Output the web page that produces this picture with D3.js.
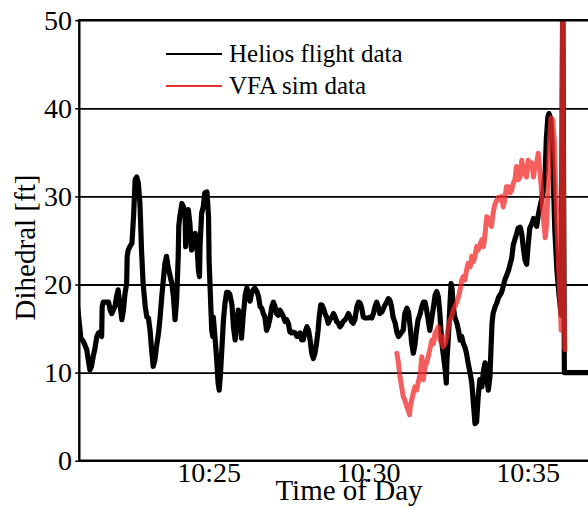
<!DOCTYPE html>
<html>
<head>
<meta charset="utf-8">
<script src="https://cdn.jsdelivr.net/npm/d3@7"></script>
<style>
  body { margin: 0; background: #fff; }
  svg { display: block; }
  text { font-family: "Liberation Serif", "DejaVu Serif", serif; fill: #000; }
</style>
</head>
<body>
<svg id="chart" width="588" height="508"></svg>
<script>
// Clock time that the second offsets below count from
const startClock = "10:20:00";

// Helios flight record: seconds after startClock, dihedral in ft
const flightSec = [
  52,60,65,71,74,77,80,83,86,90,
  93,96,99,100,102,112,115,118,121,124,
  127,130,134,137,140,143,146,147,149,152,
  156,159,162,165,168,171,174,177,181,184,
  187,190,193,196,199,203,206,209,212,215,
  218,221,224,228,231,234,237,240,243,244,
  246,250,253,256,257,259,262,265,268,271,
  275,278,281,283,284,287,290,293,297,300,
  301,304,306,308,309,312,315,318,320,322,
  325,328,331,334,337,340,344,347,350,353,
  356,359,362,365,369,372,375,378,381,384,
  387,391,394,397,400,403,406,409,412,416,
  419,422,425,428,431,434,438,441,444,447,
  450,453,456,459,463,466,469,472,475,478,
  481,485,488,491,494,497,500,503,506,508,
  511,513,516,519,522,525,528,532,535,538,
  541,544,547,550,553,557,560,563,566,569,
  572,575,579,582,585,588,591,594,600,604,
  607,610,613,616,619,622,626,629,632,635,
  638,641,644,647,651,654,657,660,663,666,
  669,673,676,679,682,685,688,691,694,698,
  701,704,707,710,713,716,720,723,726,729,
  732,735,738,741,745,747,748,751,754,756,
  758,760,763,767,770,773,776,779,782,785,
  788,792,795,798,801,804,807,810,814,817,
  820,823,826,829,831,833,835,839,842,845,
  851,857,864,870,873,876,879,882,886,889,
  892,895,898,901,904,908,911,914,917,920,
  923,926,929,933,935,938,940,943,945,948,
  951,955,959,963,966,969,1040
];
const flightDihedral = [
  18.5,13.9,13.5,12.6,11.4,10.3,10.7,11.8,12.6,14.1,
  14.5,14.6,14.1,17.5,18.0,18.0,17.1,16.7,17.1,17.5,
  18.6,19.4,17.5,16.0,17.1,19.0,20.1,23.2,23.9,24.3,
  24.7,27.7,31.9,32.2,31.5,29.2,23.9,20.1,17.5,16.3,
  16.2,14.8,12.6,10.7,11.4,13.3,14.5,16.3,18.6,20.5,
  22.4,23.2,22.0,20.9,20.1,18.6,16.0,18.2,23.2,26.6,
  27.7,29.2,28.8,27.7,24.3,26.6,28.5,26.9,23.9,24.3,
  25.8,24.7,21.6,20.9,24.3,28.1,28.8,30.4,30.5,27.7,
  22.8,17.9,14.8,14.1,16.3,14.1,11.8,8.8,8.0,9.5,
  12.6,16.0,17.9,19.1,19.1,18.9,17.7,15.1,13.7,15.7,
  17.1,16.2,13.9,16.3,18.8,19.6,19.0,18.1,19.0,19.4,
  19.6,19.2,18.6,17.5,17.3,16.7,16.3,14.8,15.2,16.3,
  17.5,18.0,17.5,16.7,16.5,17.1,16.7,16.3,15.8,16.0,
  15.6,14.6,14.5,14.6,14.5,14.1,14.1,14.5,13.7,13.7,
  14.5,15.2,14.8,13.7,12.2,11.6,12.2,13.3,14.8,16.3,
  17.7,17.7,17.3,16.7,16.3,15.6,16.0,16.3,16.7,16.3,
  15.8,15.6,15.2,15.4,15.8,16.0,16.3,16.7,16.3,15.8,
  15.6,16.0,17.5,18.0,17.9,17.3,16.3,16.2,16.2,16.3,
  16.2,16.7,17.5,18.0,17.5,16.7,16.9,17.3,17.7,18.0,
  18.4,18.2,17.5,16.3,15.6,14.6,14.1,14.3,14.6,14.8,
  16.7,17.3,16.9,15.2,13.3,12.2,13.1,14.8,16.0,16.7,
  17.5,18.0,18.0,17.1,16.0,14.8,16.3,17.5,18.8,19.2,
  18.6,16.7,13.7,12.2,10.3,8.8,11.1,14.1,17.9,20.1,
  19.4,17.5,16.3,15.6,14.8,13.7,14.1,13.3,12.9,12.2,
  11.1,9.9,8.8,6.5,4.2,4.4,7.3,9.2,8.4,10.3,
  11.1,9.5,8.0,9.5,12.6,15.6,16.7,17.5,17.9,18.5,
  19.1,20.5,21.6,23.0,24.5,25.1,25.7,26.4,26.5,25.7,
  24.1,22.8,22.3,24.5,26.4,26.9,27.5,27.3,26.6,27.9,
  28.8,29.6,30.5,32.8,36.4,39.0,39.4,38.9,37.0,32.4,
  26.2,21.6,18.8,16.5,55,10.0,10.0
];

// VFA simulation: seconds after startClock, dihedral in ft
const simSec = [
  654,657,660,663,666,669,673,676,678,679,
  682,685,688,691,694,698,701,703,704,707,
  710,713,716,720,723,726,729,732,735,738,
  741,745,748,751,754,757,760,763,767,770,
  773,776,779,782,785,788,792,795,798,801,
  804,807,810,814,817,820,823,826,829,832,
  835,838,842,845,848,851,854,857,860,864,
  867,870,873,876,879,882,886,889,892,895,
  898,901,904,908,911,914,917,920,923,926,
  929,933,936,939,941,944,947,950,952,955,
  958,961,963,966,968,970
];
const simDihedral = [
  12.2,11.1,9.5,8.4,7.3,6.9,6.1,5.6,5.2,6.1,
  6.9,7.7,8.4,8.0,8.8,9.9,11.8,10.3,9.2,10.7,
  11.1,11.8,12.6,13.7,13.3,14.5,14.8,15.2,13.7,14.1,
  12.9,13.3,14.1,15.2,16.0,16.3,17.1,17.5,18.0,18.6,
  19.4,20.5,20.9,20.5,21.6,22.4,22.0,23.2,22.6,23.2,
  24.3,23.9,24.5,25.1,24.3,25.8,27.7,27.5,26.9,26.6,
  28.1,29.0,29.6,29.9,29.6,30.0,28.8,29.6,31.1,31.1,
  30.4,30.7,31.5,31.9,33.4,31.9,32.2,34.1,32.6,33.4,
  32.2,34.1,33.4,33.8,32.2,33.4,33.8,34.9,33.0,30.7,
  27.9,25.3,27.1,31.9,36.4,38.9,38.7,36.4,32.4,27.3,
  22.2,18.2,14.8,55,18.2,12.6
];

const yTicks = [0, 10, 20, 30, 40, 50];
const xTickLabels = ["10:25", "10:30", "10:35"];
const seriesNames = ["Helios flight data", "VFA sim data"];
const seriesColors = ["#000000", "#f12c2a"];

// ---- scales ----
const parseClock = d3.timeParse("%H:%M:%S");
const parseTick = d3.timeParse("%H:%M");
const base = parseClock(startClock);
const at = s => new Date(base.getTime() + s * 1000);

const plot = { left: 79.3, top: 20.2, right: 600, bottom: 460.7 };
const x = d3.scaleTime().domain([at(57), at(1036)]).range([plot.left, plot.right]);
const y = d3.scaleLinear().domain([0, 50]).range([plot.bottom, plot.top]);

const svg = d3.select("#chart");

svg.append("defs").append("clipPath").attr("id", "plotClip")
  .append("rect")
  .attr("x", plot.left).attr("y", plot.top)
  .attr("width", plot.right - plot.left).attr("height", plot.bottom - plot.top);

// ---- horizontal grid ----
svg.append("g")
  .attr("transform", `translate(${plot.left},0)`)
  .call(d3.axisLeft(y).tickValues(yTicks.filter(v => v > 0 && v < 50))
    .tickSize(-(plot.right - plot.left)).tickFormat(""))
  .call(g => g.select(".domain").remove())
  .call(g => g.selectAll("line").attr("stroke", "#000").attr("stroke-width", 1.8));

// ---- series ----
const line = d3.line().x(d => x(at(d[0]))).y(d => y(d[1]));
const lines = svg.append("g").attr("clip-path", "url(#plotClip)");

lines.append("path")
  .datum(d3.zip(flightSec, flightDihedral))
  .attr("d", line)
  .attr("fill", "none")
  .attr("stroke", seriesColors[0])
  .attr("stroke-width", 5.2)
  .attr("stroke-linejoin", "round")
  .attr("stroke-linecap", "round");

lines.append("path")
  .datum(d3.zip(simSec, simDihedral))
  .attr("d", line)
  .attr("fill", "none")
  .attr("stroke", seriesColors[1])
  .attr("stroke-opacity", 0.76)
  .attr("stroke-width", 5)
  .attr("stroke-linejoin", "round")
  .attr("stroke-linecap", "round");

// ---- axes ----
const yAxis = svg.append("g")
  .attr("transform", `translate(${plot.left},0)`)
  .call(d3.axisLeft(y).tickValues(yTicks).tickFormat(d3.format("d"))
    .tickSize(4).tickPadding(3.3));
yAxis.select(".domain").remove();
yAxis.selectAll("line").attr("stroke", "#000").attr("stroke-width", 1.6);
yAxis.selectAll("text").attr("font-size", 28).attr("font-family", null);

const xAxis = svg.append("g")
  .attr("transform", `translate(0,${plot.bottom})`)
  .call(d3.axisBottom(x).tickValues(xTickLabels.map(parseTick))
    .tickFormat(d3.timeFormat("%H:%M")).tickSize(0).tickPadding(1.5));
xAxis.select(".domain").remove();
xAxis.selectAll("text").attr("font-size", 28).attr("font-family", null);

// frame
const spine = (x1, y1, x2, y2, w) => svg.append("line")
  .attr("x1", x1).attr("y1", y1).attr("x2", x2).attr("y2", y2)
  .attr("stroke", "#000").attr("stroke-width", w);
spine(plot.left, plot.top - 1.2, plot.left, plot.bottom + 1.2, 2.4);
spine(plot.left, plot.bottom, plot.right, plot.bottom, 2.4);
spine(plot.left, plot.top, plot.right, plot.top, 2.6);

// axis titles
svg.append("text")
  .attr("x", 349).attr("y", 500)
  .attr("text-anchor", "middle").attr("font-size", 29)
  .text("Time of Day");
svg.append("text")
  .attr("transform", "translate(35,247.5) rotate(-90)")
  .attr("text-anchor", "middle").attr("font-size", 29)
  .text("Dihedral [ft]");

// ---- legend ----
const legend = svg.append("g").attr("transform", "translate(166,54)");
seriesNames.forEach((name, i) => {
  const row = legend.append("g").attr("transform", `translate(0,${i * 32})`);
  row.append("line")
    .attr("x1", 0).attr("x2", 56).attr("y1", 0).attr("y2", 0)
    .attr("stroke", i === 0 ? seriesColors[0] : "#e8322e")
    .attr("stroke-width", 2.2);
  row.append("text")
    .attr("x", 63).attr("y", 8)
    .attr("font-size", 25)
    .text(name);
});
</script>
</body>
</html>
